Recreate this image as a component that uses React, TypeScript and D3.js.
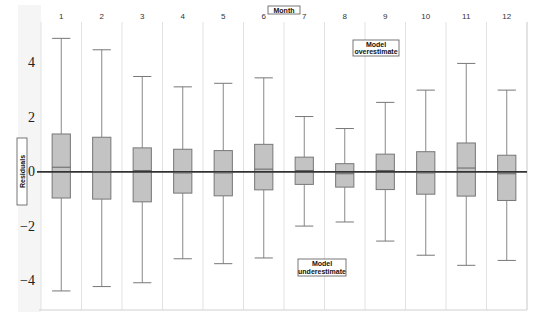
import React from "react";
import * as d3 from "d3";

const months = ["1", "2", "3", "4", "5", "6", "7", "8", "9", "10", "11", "12"];
const whiskerHigh = [4.9, 4.48, 3.5, 3.12, 3.25, 3.45, 2.03, 1.59, 2.55, 3.0, 3.98, 3.0];
const q3 = [1.39, 1.27, 0.88, 0.83, 0.78, 1.01, 0.54, 0.3, 0.65, 0.74, 1.06, 0.61];
const medians = [0.17, 0.0, 0.05, -0.04, -0.04, 0.1, 0.05, -0.07, 0.05, -0.04, 0.14, -0.07];
const q1 = [-0.96, -1.0, -1.1, -0.78, -0.88, -0.66, -0.46, -0.56, -0.65, -0.82, -0.89, -1.05];
const whiskerLow = [-4.37, -4.21, -4.07, -3.19, -3.37, -3.16, -1.99, -1.84, -2.54, -3.06, -3.43, -3.25];
const yTicks = [4, 2, 0, -2, -4];

const W = 550;
const H = 319;
const left = 41;
const right = 527;
const top = 22;
const bottom = 310;

const sans = "'Liberation Sans', Arial, sans-serif";
const serif = "'Liberation Serif', 'DejaVu Serif', serif";

const LabelBox = ({ x, y, w, h, lines }: { x: number; y: number; w: number; h: number; lines: string[] }) => (
  <g>
    <rect x={x} y={y} width={w} height={h} fill="#fff" stroke="#555" strokeWidth={0.8} />
    {lines.map((l, i) => (
      <text
        key={i}
        x={x + w / 2}
        y={y + h / 2 + (i - (lines.length - 1) / 2) * 7.5 + 2.5}
        textAnchor="middle"
        fontFamily={sans}
        fontWeight="bold"
        fontSize={7}
        fill="#111"
      >
        {l}
      </text>
    ))}
  </g>
);

export default function App() {
  const x = d3.scaleBand<string>().domain(months).range([left, right]).padding(0);
  const y = d3.scaleLinear().domain([-5.07, 5.5]).range([bottom, top]);
  const bw = x.bandwidth() * 0.45;

  return (
    <svg width={W} height={H} style={{ position: "absolute", left: 0, top: 0 }}>
      <rect width={W} height={H} fill="#fff" />
      <rect x={18} y={5} width={left - 18} height={bottom - 5 + 2} fill="#f5f5f5" />
      {/* band separators */}
      {months.map((m) => (
        <line key={m} x1={x(m)!} x2={x(m)!} y1={top} y2={bottom} stroke="#e2e2e2" strokeWidth={1} />
      ))}
      <line x1={right} x2={right} y1={top} y2={bottom} stroke="#c8c8c8" strokeWidth={1} />
      <line x1={left - 2} x2={right} y1={bottom} y2={bottom} stroke="#d0d0d0" strokeWidth={1} />
      {/* month labels */}
      {months.map((m) => (
        <text
          key={m}
          x={x(m)! + x.bandwidth() / 2}
          y={19}
          textAnchor="middle"
          fontFamily={sans}
          fontSize={8}
          fill="#333"
        >
          {m}
        </text>
      ))}
      {/* y ticks */}
      {yTicks.map((t) => (
        <text
          key={t}
          x={35}
          y={y(t) + 4.5}
          textAnchor="end"
          fontFamily={serif}
          fontSize={14}
          fill="#222"
        >
          {t < 0 ? "\u2212" + Math.abs(t) : String(t)}
        </text>
      ))}
      {/* boxes */}
      {months.map((m, i) => {
        const cx = x(m)! + x.bandwidth() / 2;
        return (
          <g key={m}>
            <line x1={cx} x2={cx} y1={y(whiskerHigh[i])} y2={y(q3[i])} stroke="#888" strokeWidth={1} />
            <line x1={cx} x2={cx} y1={y(q1[i])} y2={y(whiskerLow[i])} stroke="#888" strokeWidth={1} />
            <line x1={cx - bw / 2} x2={cx + bw / 2} y1={y(whiskerHigh[i])} y2={y(whiskerHigh[i])} stroke="#777" strokeWidth={1} />
            <line x1={cx - bw / 2} x2={cx + bw / 2} y1={y(whiskerLow[i])} y2={y(whiskerLow[i])} stroke="#777" strokeWidth={1} />
            <rect
              x={cx - bw / 2}
              y={y(q3[i])}
              width={bw}
              height={y(q1[i]) - y(q3[i])}
              fill="#c3c3c3"
              stroke="#777"
              strokeWidth={1}
            />
          </g>
        );
      })}
      {/* zero line */}
      <line x1={37} x2={right} y1={y(0)} y2={y(0)} stroke="#333" strokeWidth={1.8} />
      {months.map((m, i) => {
        const cx = x(m)! + x.bandwidth() / 2;
        return (
          <line key={m} x1={cx - bw / 2} x2={cx + bw / 2} y1={y(medians[i])} y2={y(medians[i])} stroke="#666" strokeWidth={1} />
        );
      })}
      {/* annotation boxes */}
      <LabelBox x={268} y={6} w={32} h={8} lines={["Month"]} />
      <LabelBox x={353} y={40} w={46} h={16} lines={["Model", "overestimate"]} />
      <LabelBox x={298} y={259} w={48} h={17} lines={["Model", "underestimate"]} />
      <g>
        <rect x={17} y={138} width={10} height={67} fill="#fff" stroke="#555" strokeWidth={0.8} />
        <text
          transform={`translate(24.5,171.5) rotate(-90)`}
          textAnchor="middle"
          fontFamily={sans}
          fontWeight="bold"
          fontSize={7}
          fill="#111"
        >
          Residuals
        </text>
      </g>
    </svg>
  );
}
